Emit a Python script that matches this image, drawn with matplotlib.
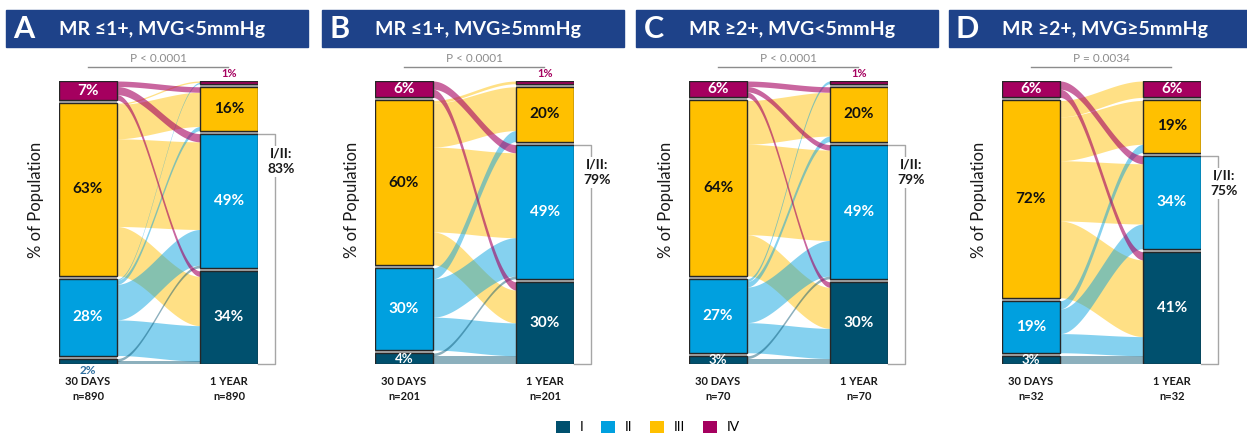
import matplotlib.pyplot as plt
import numpy as np
from matplotlib.patches import Patch, Rectangle

plt.rcParams["font.family"] = ["Lato", "DejaVu Sans"]

W, H = 1247, 437

CLASSES = ["I", "II", "III", "IV"]
COLORS = {"I": "#00506e", "II": "#00a0df", "III": "#ffc000", "IV": "#a5005f"}
HEADER = "#1e4289"
GREY = "#a6a6a6"

LETTERS = ["A", "B", "C", "D"]
TITLES = ["MR ≤1+, MVG<5mmHg", "MR ≤1+, MVG≥5mmHg", "MR ≥2+, MVG<5mmHg", "MR ≥2+, MVG≥5mmHg"]
P_VALUES = ["P < 0.0001", "P < 0.0001", "P < 0.0001", "P = 0.0034"]
N_PATIENTS = [890, 201, 70, 32]
I_II = [83, 79, 79, 75]

# share of each NYHA class (I, II, III, IV) in %
DAY30 = [[2, 28, 63, 7], [4, 30, 60, 6], [3, 27, 64, 6], [3, 19, 72, 6]]
YEAR1 = [[34, 49, 16, 1], [30, 49, 20, 1], [30, 49, 20, 1], [41, 34, 19, 6]]

# transitions: row = 30-day class, col = 1-year class
FLOWS_A = [[1, 1, 0, 0], [13, 13, 1.5, 0.5], [18, 32, 12.5, 0.5], [2, 3, 2, 0]]
FLOWS_B = [[3, 1, 0, 0], [12, 14, 4, 0], [12, 31, 16, 1], [3, 3, 0, 0]]
FLOWS_C = [[2, 1, 0, 0], [11, 13, 2, 1], [15, 33, 16, 0], [2, 2, 2, 0]]
FLOWS_D = [[3, 0, 0, 0], [7, 9, 3, 0], [28, 22, 16, 6], [3, 3, 0, 0]]
FLOWS = [FLOWS_A, FLOWS_B, FLOWS_C, FLOWS_D]

# layout (pixels)
PANEL_X = [59, 375, 689, 1002]
BAR_W, BAR_GAP = 58, 83
Y_TOP, Y_BOT = 81, 364
GAP = 1.1  # gap between strata, in % units
X_RIGHT = 1 + BAR_GAP / BAR_W
X_END = X_RIGHT + 1
PX_PER_UNIT = (Y_BOT - Y_TOP) / (100 + 3 * GAP)


def ftext(x, y, s, **kw):
    fig.text(x / W, 1 - y / H, s, **kw)


def stack(values):
    bottoms, cur = [], 0.0
    for v in values:
        bottoms.append(cur)
        cur += v + GAP
    return bottoms


def draw_column(ax, x0, values):
    bottoms = stack(values)
    total = bottoms[-1] + values[-1]
    ax.bar(x0 + 0.5, total, width=1, bottom=0, color="#b4b4b4", lw=0, zorder=5)
    for cls, v, b in zip(CLASSES, values, bottoms):
        ax.bar(x0 + 0.5, v, width=1, bottom=b, color=COLORS[cls],
               edgecolor="#262626", lw=1.0, zorder=6)
        txt_color = "#111111" if cls == "III" else "white"
        if v >= 3:
            ax.text(x0 + 0.5, b + v / 2, f"{v}%", ha="center", va="center",
                    fontsize=11 if v >= 5 else 9.5, fontweight="bold",
                    color=txt_color, zorder=7)
        elif cls == "IV":
            ax.text(x0 + 0.5, b + v + 0.6, f"{v}%", ha="center", va="bottom",
                    fontsize=8, fontweight="bold", color=COLORS["IV"], zorder=7)
        else:
            ax.text(x0 + 0.5, b - 0.5, f"{v}%", ha="center", va="top",
                    fontsize=8.5, fontweight="bold", color="#2f6f9f", zorder=7,
                    clip_on=False)
    return bottoms


def draw_flows(ax, flows, left, right):
    lb, rb = stack(left), stack(right)
    # left side: inside a source stratum, targets from IV (top) to I
    left_pos = {}
    for s in range(4):
        cur = lb[s] + left[s]
        for t in (3, 2, 1, 0):
            left_pos[(s, t)] = (cur - flows[s][t], cur)
            cur -= flows[s][t]
    right_pos = {}
    for t in range(4):
        cur = rb[t] + right[t]
        for s in (3, 2, 1, 0):
            right_pos[(s, t)] = (cur - flows[s][t], cur)
            cur -= flows[s][t]
    x = np.linspace(1, X_RIGHT, 80)
    tt = (x - 1) / (X_RIGHT - 1)
    smooth = tt * tt * (3 - 2 * tt)
    order = [(2, 0.48, 1), (1, 0.48, 2), (0, 0.45, 3), (3, 0.6, 4)]
    for s, alpha, z in order:
        for t in range(4):
            if flows[s][t] <= 0:
                continue
            lo_l, hi_l = left_pos[(s, t)]
            lo_r, hi_r = right_pos[(s, t)]
            lo = lo_l + (lo_r - lo_l) * smooth
            hi = hi_l + (hi_r - hi_l) * smooth
            ax.fill_between(x, lo, hi, color=COLORS[CLASSES[s]], alpha=alpha,
                            lw=0, zorder=z)


fig = plt.figure(figsize=(W / 100, H / 100), dpi=100)

for i in range(4):
    px = PANEL_X[i]
    ax = fig.add_axes([px / W, (H - Y_BOT) / H, (2 * BAR_W + BAR_GAP) / W,
                       (Y_BOT - Y_TOP) / H])
    ax.set_xlim(0, X_END)
    ax.set_ylim(0, 100 + 3 * GAP)
    ax.axis("off")

    draw_flows(ax, FLOWS[i], DAY30[i], YEAR1[i])
    draw_column(ax, 0, DAY30[i])
    rb = draw_column(ax, X_RIGHT, YEAR1[i])

    # I/II bracket
    ii_top = rb[1] + YEAR1[i][1]
    xb = X_END + 17 / BAR_W
    ax.plot([X_END, xb, xb, X_END], [ii_top, ii_top, 0, 0], color=GREY,
            lw=1.0, clip_on=False, zorder=2)
    ax.text(X_END + 23 / BAR_W, ii_top - 28 / PX_PER_UNIT, f"I/II:\n{I_II[i]}%",
            ha="center", va="center", fontsize=10, fontweight="bold",
            color="#1a1a1a", linespacing=1.35, clip_on=False, zorder=3,
            bbox=dict(fc="white", ec="none", pad=1.5))

    # header banner
    hx = px - 53
    fig.add_artist(Rectangle((hx / W, 1 - 47 / H), 302 / W, 37 / H,
                             transform=fig.transFigure, color=HEADER, zorder=0))
    ftext(hx + 18, 29, LETTERS[i], ha="center", va="center", fontsize=22,
          fontweight="bold", color="white")
    ftext(px, 29, TITLES[i], ha="left", va="center", fontsize=14,
          fontweight="bold", color="white")

    # p value
    fig.add_artist(plt.Line2D([(px + 29) / W, (px + 169) / W],
                              [1 - 67 / H, 1 - 67 / H], color="#8c8c8c", lw=1.0,
                              transform=fig.transFigure))
    ftext(px + 99, 59, P_VALUES[i], ha="center", va="center", fontsize=8.5,
          color="#8c8c8c")

    # axis label and time points
    ftext(px - 23, 200, "% of Population", rotation=90, ha="center",
          va="center", fontsize=12, color="#1a1a1a")
    ftext(px + BAR_W / 2, 389, f"30 DAYS\nn={N_PATIENTS[i]}", ha="center",
          va="center", fontsize=8, fontweight="bold", color="#1a1a1a",
          linespacing=1.5)
    ftext(px + BAR_W + BAR_GAP + BAR_W / 2, 389, f"1 YEAR\nn={N_PATIENTS[i]}",
          ha="center", va="center", fontsize=8, fontweight="bold",
          color="#1a1a1a", linespacing=1.5)

handles = [Patch(facecolor=COLORS[c], edgecolor="none", label=c) for c in CLASSES]
fig.legend(handles=handles, loc="center", bbox_to_anchor=(648 / W, 1 - 427 / H),
           ncol=4, frameon=False, fontsize=10, handlelength=1.0,
           handleheight=1.0, columnspacing=1.3, handletextpad=0.7)

fig.savefig("out.png", dpi=100)
